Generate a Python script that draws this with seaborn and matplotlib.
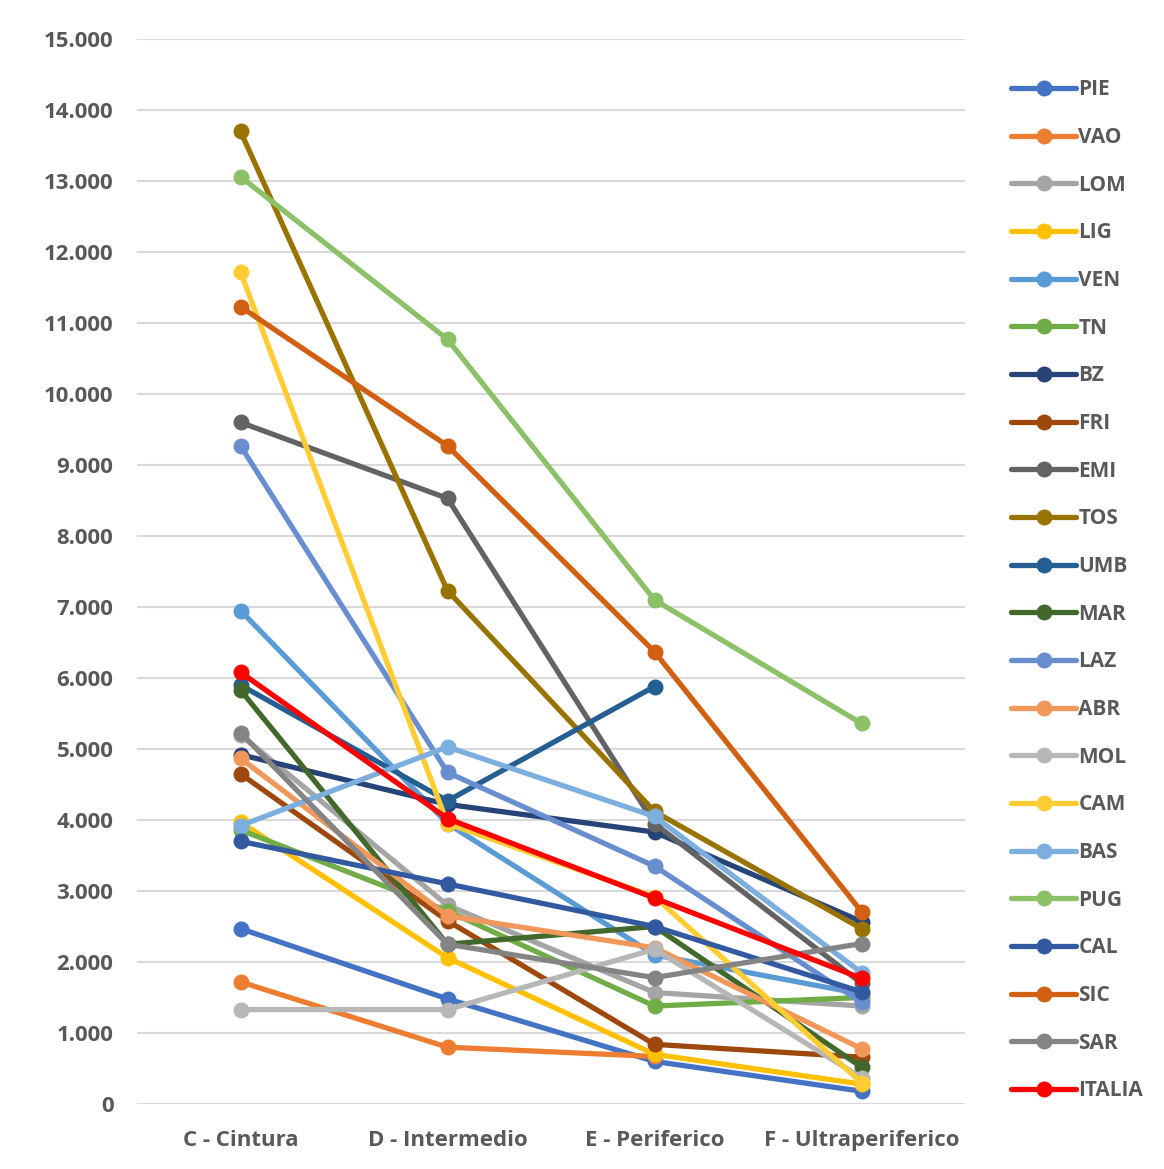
import numpy as np
import pandas as pd
import matplotlib
matplotlib.use("Agg")
import matplotlib.pyplot as plt
from matplotlib.ticker import FuncFormatter, MultipleLocator
import seaborn as sns

categories = ["C - Cintura", "D - Intermedio", "E - Periferico", "F - Ultraperiferico"]

regions = ["PIE", "VAO", "LOM", "LIG", "VEN", "TN", "BZ", "FRI", "EMI", "TOS", "UMB",
           "MAR", "LAZ", "ABR", "MOL", "CAM", "BAS", "PUG", "CAL", "SIC", "SAR", "ITALIA"]

PIE = [2470, 1480, 600, 180]
VAO = [1720, 800, 670, np.nan]
LOM = [5200, 2800, 1570, 1380]
LIG = [3970, 2060, 700, 280]
VEN = [6950, 3950, 2100, 1550]
TN = [3860, 2720, 1380, 1500]
BZ = [4920, 4220, 3830, 2570]
FRI = [4650, 2580, 840, 660]
EMI = [9600, 8530, 3950, 1700]
TOS = [13700, 7230, 4120, 2470]
UMB = [5900, 4270, 5880, np.nan]
MAR = [5830, 2250, 2500, 520]
LAZ = [9270, 4670, 3350, 1430]
ABR = [4870, 2650, 2200, 780]
MOL = [1330, 1330, 2180, 370]
CAM = [11720, 3950, 2920, 300]
BAS = [3920, 5030, 4050, 1850]
PUG = [13060, 10770, 7100, 5360]
CAL = [3700, 3100, 2500, 1580]
SIC = [11230, 9270, 6370, 2710]
SAR = [5230, 2250, 1780, 2260]
ITALIA = [6080, 4020, 2900, 1770]

series = [PIE, VAO, LOM, LIG, VEN, TN, BZ, FRI, EMI, TOS, UMB,
          MAR, LAZ, ABR, MOL, CAM, BAS, PUG, CAL, SIC, SAR, ITALIA]

colors = ["#4472C4", "#ED7D31", "#A5A5A5", "#FFC000", "#5B9BD5", "#70AD47",
          "#264478", "#9E480E", "#636363", "#997300", "#255E91", "#43682B",
          "#698ED0", "#F1975A", "#B7B7B7", "#FFCD33", "#7CAFDD", "#8CC168",
          "#335AA1", "#D26012", "#848484", "#FF0000"]

rows = []
for name, vals in zip(regions, series):
    for cat, v in zip(categories, vals):
        rows.append({"zona": cat, "regione": name, "valore": v})
df = pd.DataFrame(rows)

sns.set_theme(style="white")
plt.rcParams["font.family"] = ["Open Sans", "DejaVu Sans"]

fig = plt.figure(figsize=(11.64, 11.69), dpi=100)
ax = fig.add_axes([137 / 1164, 1 - 1104 / 1169, (965 - 137) / 1164, (1104 - 39) / 1169])

palette = dict(zip(regions, colors))
sns.lineplot(data=df, x="zona", y="valore", hue="regione", hue_order=regions,
             palette=palette, marker="o", markersize=11.5, markeredgewidth=0,
             linewidth=3.8, sort=False, ax=ax, legend=True)

ax.set_xlim(-0.5, 3.5)
ax.set_ylim(0, 15000)
ax.yaxis.set_major_locator(MultipleLocator(1000))
ax.yaxis.set_major_formatter(FuncFormatter(
    lambda v, p: "0" if v == 0 else f"{int(v):,}".replace(",", ".")))
ax.grid(axis="y", color="#D9D9D9", linewidth=1.5)
ax.set_axisbelow(True)
for s in ax.spines.values():
    s.set_visible(False)
ax.set_xlabel("")
ax.set_ylabel("")
ax.tick_params(axis="both", length=0, labelsize=16, colors="#595959")
ax.tick_params(axis="y", pad=17)
ax.tick_params(axis="x", pad=19)
for lab in ax.get_xticklabels() + ax.get_yticklabels():
    lab.set_fontweight("bold")

handles, labels = ax.get_legend_handles_labels()
ax.legend_.remove()
leg = fig.legend(handles, labels, loc="upper left",
                 bbox_to_anchor=(1003 / 1164, 1 - 71 / 1169),
                 frameon=False, fontsize=15, handlelength=3.1,
                 handletextpad=0.12, labelspacing=1.28, borderaxespad=0)
for t in leg.get_texts():
    t.set_color("#595959")
    t.set_fontweight("bold")

fig.savefig("out.png", dpi=100, facecolor="white")
